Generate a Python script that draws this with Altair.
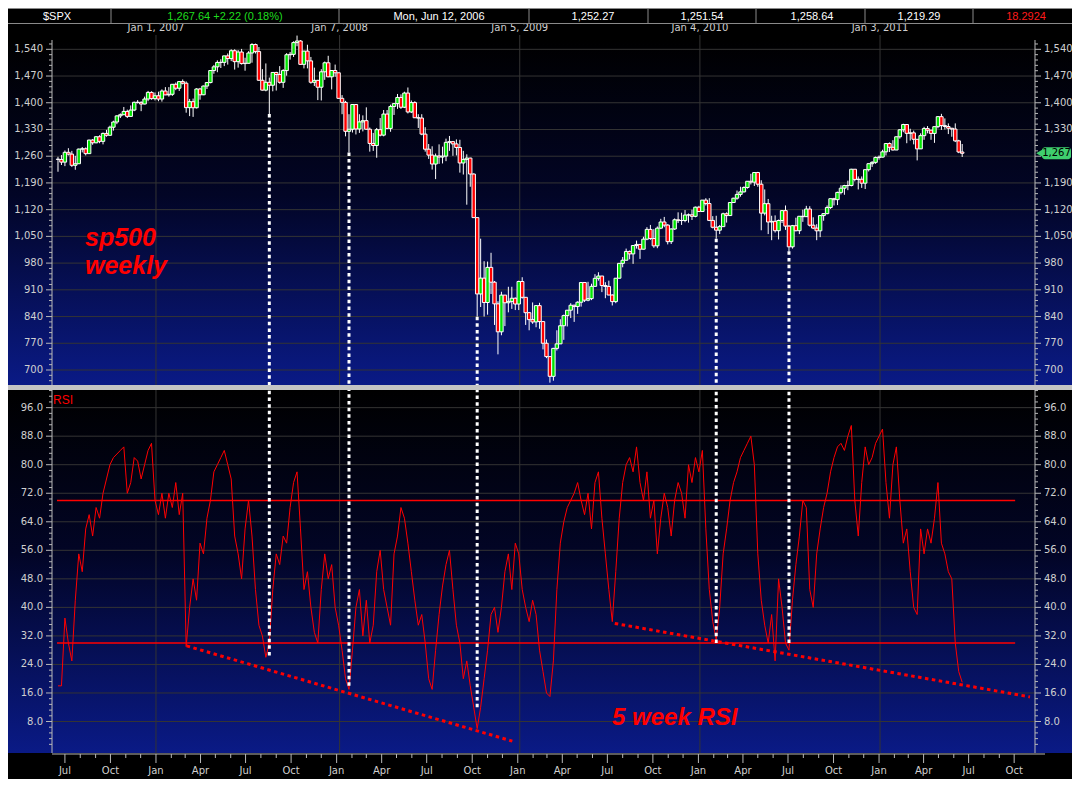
import altair as alt
import pandas as pd
import numpy as np

# ---------------- data (weekly S&P 500 candles) ----------------
opens = [
    1252.3, 1251.5, 1244.5, 1270.2, 1265.5, 1236.2, 1240.3, 1278.6, 1279.4, 1266.7, 1302.3, 1295.1, 1311.0, 1298.9, 1319.7,
    1314.8, 1335.9, 1349.6, 1365.6, 1368.6, 1377.3, 1364.3, 1380.9, 1401.2, 1400.9, 1396.7, 1409.8, 1427.1, 1410.8,
    1418.3, 1409.7, 1430.7, 1420.6, 1422.2, 1448.4, 1438.1, 1455.5, 1451.2, 1387.2, 1402.8, 1386.9, 1436.1, 1420.9, 1443.8,
    1452.9, 1484.4, 1494.1, 1505.6, 1505.9, 1522.8, 1515.7, 1536.3, 1507.7, 1532.9, 1502.6, 1503.4, 1530.4, 1552.5, 1534.1,
    1458.9, 1433.1, 1453.6, 1445.9, 1479.4, 1473.9, 1453.6, 1484.3, 1525.8, 1526.8, 1557.6, 1561.8, 1500.6, 1535.3, 1509.7,
    1453.7, 1458.7, 1440.7, 1481.1, 1504.7, 1467.9, 1484.5, 1478.5,
    1411.6, 1401.0, 1325.2, 1330.6, 1395.4, 1331.3, 1349.9, 1353.1, 1330.6, 1293.4, 1288.1, 1329.5, 1315.2, 1370.4, 1332.8,
    1390.3, 1397.8, 1413.9, 1388.3, 1425.4, 1375.9, 1400.4, 1360.7, 1360.0, 1317.9, 1278.4, 1262.9, 1239.5, 1260.7, 1257.8,
    1260.3, 1296.3, 1298.2, 1292.2, 1282.8, 1242.3, 1251.7, 1255.1, 1213.3, 1099.2, 899.2, 940.6, 876.8, 968.8, 930.0,
    873.3, 800.0, 896.2, 876.1, 879.7, 887.9, 872.8,
    931.8, 890.4, 850.1, 831.9, 825.9, 868.6, 826.8, 770.1, 735.1, 683.4, 756.6, 768.5, 815.9, 842.5, 856.6,
    869.6, 866.2, 877.5, 929.2, 882.9, 887.0, 919.1, 940.1, 946.2, 921.2, 918.9, 896.4, 879.1, 940.4, 979.3,
    987.5, 1010.5, 1004.1, 1026.1, 1028.9, 1016.4, 1042.7, 1068.3, 1044.4, 1025.2, 1071.5, 1087.7, 1079.6, 1036.2, 1069.3,
    1093.5, 1091.4, 1091.6, 1106.0, 1106.4, 1102.5, 1126.5,
    1115.1, 1145.0, 1136.0, 1091.8, 1073.9, 1066.2, 1075.5, 1109.2, 1104.5, 1138.7, 1150.0, 1159.9, 1166.6, 1178.1, 1194.4,
    1192.1, 1217.3, 1186.7, 1110.9, 1135.7, 1087.7, 1089.4, 1064.9, 1091.6, 1117.5, 1076.8, 1022.6, 1078.0, 1064.9, 1102.7,
    1101.6, 1121.6, 1079.3, 1071.7, 1064.6, 1104.5, 1109.6, 1125.6, 1148.7, 1146.2, 1165.2, 1176.2, 1183.1, 1183.3, 1225.9,
    1199.2, 1199.7, 1189.4, 1224.7, 1240.4, 1243.9, 1256.8,
    1257.6, 1271.5, 1293.2, 1283.4, 1276.3, 1310.9, 1329.2, 1343.0, 1319.9, 1321.2, 1304.3, 1279.2, 1313.8, 1332.4, 1328.2,
    1319.7, 1337.4, 1363.6, 1340.2, 1337.8, 1333.3, 1331.1, 1300.2, 1271.0,
]
highs = [
    1258.6, 1263, 1275, 1281, 1274, 1261, 1280, 1284, 1283, 1303, 1305, 1312, 1315, 1322, 1329,
    1340, 1353, 1367, 1372, 1389, 1382, 1393, 1403, 1407, 1404, 1416, 1431, 1430, 1427,
    1429, 1435, 1441, 1441, 1449, 1453, 1457, 1461, 1456, 1410, 1411, 1438, 1439, 1445, 1453,
    1484.5, 1499, 1511, 1514, 1522.8, 1529, 1540, 1540, 1538, 1541, 1518, 1535, 1556, 1555, 1546,
    1488, 1503, 1466, 1480, 1481, 1496, 1488, 1530, 1533, 1561, 1576, 1564, 1536, 1552, 1520,
    1492, 1460, 1488, 1508, 1523, 1485, 1500, 1478.5,
    1420, 1405, 1370, 1396, 1396, 1370, 1367, 1388, 1335, 1321, 1334, 1360, 1381, 1381, 1395,
    1399, 1423, 1422, 1429, 1440, 1406, 1404, 1370, 1370, 1336, 1292, 1286, 1267, 1291, 1285,
    1306, 1313, 1300, 1304, 1303, 1274, 1265, 1256, 1215, 1099.2, 1044, 985, 984, 1007, 933,
    880, 905, 896.2, 918, 918, 890, 934,
    943, 891, 852, 877, 870, 876, 827, 780, 735.1, 758, 804, 833, 845, 857, 875,
    871, 880, 930, 930, 931, 926, 951, 956, 946.2, 930, 934, 898, 941, 980, 996,
    1018, 1013, 1027, 1039, 1029, 1049, 1074, 1080, 1069, 1076, 1096, 1101, 1082, 1071, 1097,
    1113, 1112, 1119, 1110, 1120, 1128, 1130,
    1145, 1150, 1150, 1103, 1104, 1080, 1112, 1113, 1139, 1151, 1170, 1180, 1181, 1195, 1214,
    1217.3, 1219, 1197, 1173, 1148, 1104, 1105, 1094, 1119, 1131, 1080, 1080, 1099, 1103, 1120,
    1130, 1129, 1100, 1082, 1105, 1111, 1131, 1149, 1151, 1167, 1184, 1185, 1196, 1227, 1226,
    1207, 1207, 1225, 1241, 1247, 1259, 1262,
    1277, 1293.2, 1296, 1302, 1311, 1331, 1345, 1343, 1332, 1327, 1304.3, 1320, 1337, 1339, 1329,
    1337.4, 1364, 1371, 1359, 1346, 1334, 1346, 1303, 1292,
]
lows = [
    1219.3, 1237, 1234, 1262, 1232, 1224.5, 1240, 1270, 1262, 1266, 1290, 1294, 1294, 1291, 1311,
    1314, 1327, 1344, 1360, 1368, 1360, 1364, 1378, 1398, 1378, 1396, 1404, 1408, 1406,
    1404, 1403, 1420, 1416, 1418, 1433, 1431, 1448, 1374, 1365, 1363, 1385, 1408, 1420, 1436,
    1451, 1476, 1480, 1491, 1496, 1500, 1509, 1487, 1492, 1500, 1484, 1503, 1505, 1529, 1458,
    1432, 1430, 1370.6, 1430, 1432, 1450, 1439, 1471, 1513, 1520, 1548, 1500, 1490, 1490, 1450,
    1444, 1407, 1406, 1460, 1467, 1435, 1468, 1411,
    1370, 1312, 1270, 1322, 1317, 1321, 1325, 1330, 1272, 1274, 1256, 1312, 1312, 1331, 1324,
    1368, 1384, 1384, 1386, 1372, 1373, 1360, 1334, 1315, 1272, 1253, 1225, 1200, 1240, 1241,
    1247, 1274, 1261, 1262, 1217, 1212, 1133, 1180, 1099, 839.8, 865, 840, 845, 899, 818,
    741, 791, 815, 851, 860, 857, 857,
    887, 818, 804, 821, 812, 808, 754, 731, 666.8, 672, 751, 768, 779, 814, 836,
    826, 847, 866, 878, 880, 883, 919, 934, 904, 888, 896, 869, 875, 940, 969,
    987, 990, 978, 1018, 991, 1016, 1040, 1041, 1020, 1019, 1069, 1074, 1029, 1030, 1067,
    1085, 1080, 1087, 1086, 1093, 1100, 1114,
    1115, 1131, 1090, 1071, 1044, 1056, 1075, 1086, 1104, 1138, 1146, 1154, 1165, 1175, 1186,
    1182, 1180, 1066, 1105, 1056, 1040, 1060, 1042, 1085, 1067, 1011, 1018, 1063, 1056, 1088,
    1101, 1076, 1069, 1040, 1048, 1091, 1108, 1122, 1131, 1132, 1160, 1159, 1171, 1181, 1194,
    1173, 1177, 1174, 1220, 1232, 1240, 1251,
    1257, 1262, 1271, 1275, 1276, 1306, 1323, 1294, 1301, 1291, 1249, 1279, 1303, 1320, 1303,
    1295, 1333, 1329, 1330, 1318, 1311, 1297, 1268, 1258,
]
closes = [
    1251.5, 1244.5, 1270.2, 1265.5, 1236.2, 1240.3, 1278.6, 1279.4, 1266.7, 1302.3, 1295.1, 1311.0, 1298.9, 1319.7, 1314.8,
    1335.9, 1349.6, 1365.6, 1368.6, 1377.3, 1364.3, 1380.9, 1401.2, 1400.9, 1396.7, 1409.8, 1427.1, 1410.8, 1418.3,
    1409.7, 1430.7, 1420.6, 1422.2, 1448.4, 1438.1, 1455.5, 1451.2, 1387.2, 1402.8, 1386.9, 1436.1, 1420.9, 1443.8, 1452.9,
    1484.4, 1494.1, 1505.6, 1505.9, 1522.8, 1515.7, 1536.3, 1507.7, 1532.9, 1502.6, 1503.4, 1530.4, 1552.5, 1534.1, 1458.9,
    1433.1, 1453.6, 1445.9, 1479.4, 1473.9, 1453.6, 1484.3, 1525.8, 1526.8, 1557.6, 1561.8, 1500.6, 1535.3, 1509.7, 1453.7,
    1458.7, 1440.7, 1481.1, 1504.7, 1467.9, 1484.5, 1478.5, 1411.6,
    1401.0, 1325.2, 1330.6, 1395.4, 1331.3, 1349.9, 1353.1, 1330.6, 1293.4, 1288.1, 1329.5, 1315.2, 1370.4, 1332.8, 1390.3,
    1397.8, 1413.9, 1388.3, 1425.4, 1375.9, 1400.4, 1360.7, 1360.0, 1317.9, 1278.4, 1262.9, 1239.5, 1260.7, 1257.8, 1260.3,
    1296.3, 1298.2, 1292.2, 1282.8, 1242.3, 1251.7, 1255.1, 1213.3, 1099.2, 899.2, 940.6, 876.8, 968.8, 930.0, 873.3,
    800.0, 896.2, 876.1, 879.7, 887.9, 872.8, 931.8,
    890.4, 850.1, 831.9, 825.9, 868.6, 826.8, 770.1, 735.1, 683.4, 756.6, 768.5, 815.9, 842.5, 856.6, 869.6,
    866.2, 877.5, 929.2, 882.9, 887.0, 919.1, 940.1, 946.2, 921.2, 918.9, 896.4, 879.1, 940.4, 979.3, 987.5,
    1010.5, 1004.1, 1026.1, 1028.9, 1016.4, 1042.7, 1068.3, 1044.4, 1025.2, 1071.5, 1087.7, 1079.6, 1036.2, 1069.3, 1093.5,
    1091.4, 1091.6, 1106.0, 1106.4, 1102.5, 1126.5, 1115.1,
    1145.0, 1136.0, 1091.8, 1073.9, 1066.2, 1075.5, 1109.2, 1104.5, 1138.7, 1150.0, 1159.9, 1166.6, 1178.1, 1194.4, 1192.1,
    1217.3, 1186.7, 1110.9, 1135.7, 1087.7, 1089.4, 1064.9, 1091.6, 1117.5, 1076.8, 1022.6, 1078.0, 1064.9, 1102.7, 1101.6,
    1121.6, 1079.3, 1071.7, 1064.6, 1104.5, 1109.6, 1125.6, 1148.7, 1146.2, 1165.2, 1176.2, 1183.1, 1183.3, 1225.9, 1199.2,
    1199.7, 1189.4, 1224.7, 1240.4, 1243.9, 1256.8, 1257.6,
    1271.5, 1293.2, 1283.4, 1276.3, 1310.9, 1329.2, 1343.0, 1319.9, 1321.2, 1304.3, 1279.2, 1313.8, 1332.4, 1328.2, 1319.7,
    1337.4, 1363.6, 1340.2, 1337.8, 1333.3, 1331.1, 1300.2, 1271.0, 1267.6,
]
# 5 week RSI, one reading per weekly bar
rsi_values = [
    18, 18, 37, 30, 25, 42, 55, 50, 62, 66,
    60, 68, 65, 72, 76, 80, 82, 83, 84, 85,
    72, 75, 82, 81, 76, 80, 84, 86, 70, 66,
    72, 65, 72, 68, 75, 66, 72, 29, 40, 48,
    42, 58, 55, 65, 70, 78, 80, 82, 84, 80,
    76, 60, 55, 48, 62, 70, 60, 45, 35, 32,
    26, 30, 45, 55, 52, 60, 58, 68, 75, 78,
    62, 45, 50, 40, 33, 30, 45, 55, 48, 52,
    40, 35, 28, 20, 17, 28, 40, 45, 32, 42,
    30, 35, 50, 56, 45, 40, 35, 55, 60, 68,
    65, 58, 50, 42, 35, 38, 30, 20, 17, 28,
    38, 46, 52, 56, 45, 35, 30, 20, 25, 18,
    12, 6, 12, 20, 28, 38, 40, 33, 40, 50,
    55, 45, 58, 55, 45, 40, 36, 42, 38, 28,
    22, 16, 15, 25, 45, 58, 64, 68, 70, 72,
    75, 70, 66, 72, 62, 75, 78, 65, 55, 45,
    36, 50, 65, 75, 80, 82, 78, 85, 75, 70,
    78, 65, 70, 55, 65, 72, 68, 60, 70, 75,
    72, 65, 80, 75, 82, 78, 84, 62, 45, 36,
    31, 40, 55, 62, 70, 75, 78, 82, 84, 86,
    88, 80, 55, 42, 35, 30, 38, 25, 48, 40,
    30, 28, 42, 52, 60, 70, 68, 45, 40, 55,
    62, 68, 72, 78, 82, 85, 86, 84, 88, 91,
    70, 60, 75, 85, 80, 82, 86, 88, 90, 75,
    65, 80, 85, 70, 58, 62, 50, 40, 38, 62,
    55, 62, 58, 65, 75, 58, 55, 50, 48, 30,
    22, 19,
]

price_ticks = [700, 770, 840, 910, 980, 1050, 1120, 1190, 1260, 1330, 1400, 1470, 1540]
price_tick_labels = ["700", "770", "840", "910", "980", "1,050", "1,120", "1,190", "1,260",
                     "1,330", "1,400", "1,470", "1,540"]
rsi_ticks = [8, 16, 24, 32, 40, 48, 56, 64, 72, 80, 88, 96]
rsi_tick_labels = ["8.0", "16.0", "24.0", "32.0", "40.0", "48.0", "56.0", "64.0", "72.0",
                   "80.0", "88.0", "96.0"]
year_dates = ["2007-01-01", "2008-01-07", "2009-01-05", "2010-01-04", "2011-01-03"]
year_labels = ["Jan 1, 2007", "Jan 7, 2008", "Jan 5, 2009", "Jan 4, 2010", "Jan 3, 2011"]
rsi_levels = [70, 30]
header_texts = ["$SPX", "1,267.64  +2.22 (0.18%)", "Mon, Jun 12, 2006", "1,252.27",
                "1,251.54", "1,258.64", "1,219.29", "18.2924"]
last_price = 1267.6
last_price_label = "1,267"
# lows linked by white dotted lines to RSI lows (week index of the low, RSI value reached)
link_weeks = [61, 84, 121, 190, 211]
link_rsi = [26.5, 18, 12, 30, 30]
# red dotted RSI trend lines
trend_start = ["2007-03-04", "2009-07-16"]
trend_end = ["2008-12-21", "2011-11-02"]
trend_v0 = [29.2, 35.5]
trend_v1 = [2.5, 14.9]

# ---------------- layout (pixels) ----------------
W, H = 1064, 771
PX0, PX1 = 44, 1027
P_TOP, P_BOT = 32, 377
R_TOP, R_BOT = 382, 745
P_DOM = [660.7, 1564.4]
R_DOM = [-0.83, 100.95]
GREEN, RED = "#00e400", "#ff0000"
GRID, AXIS_C, LABEL_C = "#343434", "#b8b8b8", "#cfcfcf"
FONT = "DejaVu Sans"

X_SCALE = alt.Scale(domain=[alt.DateTime(year=2006, month=6, date=15),
                            alt.DateTime(year=2011, month=11, date=2)],
                    range=[PX0, PX1])
PY_SCALE = alt.Scale(domain=P_DOM, range=[P_BOT, P_TOP], zero=False, nice=False)
RY_SCALE = alt.Scale(domain=R_DOM, range=[R_BOT, R_TOP], zero=False, nice=False)


def X(f):
    return alt.X(f"{f}:T", scale=X_SCALE, axis=None)


def YP(f):
    return alt.Y(f"{f}:Q", scale=PY_SCALE, axis=None)


def YR(f):
    return alt.Y(f"{f}:Q", scale=RY_SCALE, axis=None)


weeks = pd.date_range("2006-06-17", periods=len(closes), freq="7D")
candles = pd.DataFrame({"date": weeks, "open": opens, "high": highs, "low": lows, "close": closes})
candles["dir"] = np.where(candles["close"] >= candles["open"], "up", "down")
rsi_df = pd.DataFrame({"date": weeks, "rsi": rsi_values})
one = pd.DataFrame({"a": [0]})

grad = alt.LinearGradient(
    gradient="linear",
    stops=[alt.GradientStop(color="#000000", offset=0),
           alt.GradientStop(color="#020526", offset=0.45),
           alt.GradientStop(color="#0a1a86", offset=1)],
    x1=0, x2=0, y1=0, y2=1)

layers = []
# backgrounds
for top, bot in [(P_TOP, P_BOT), (R_TOP, R_BOT)]:
    layers.append(alt.Chart(one).mark_rect(color=grad).encode(
        x=alt.value(0), x2=alt.value(W), y=alt.value(top), y2=alt.value(bot)))

# horizontal gridlines
pt = pd.DataFrame({"v": price_ticks, "lab": price_tick_labels})
rt = pd.DataFrame({"v": rsi_ticks, "lab": rsi_tick_labels})
layers.append(alt.Chart(pt).mark_rule(color=GRID, strokeWidth=1).encode(
    x=alt.value(PX0), x2=alt.value(PX1), y=YP("v")))
layers.append(alt.Chart(rt).mark_rule(color=GRID, strokeWidth=1).encode(
    x=alt.value(PX0), x2=alt.value(PX1), y=YR("v")))
# vertical year gridlines + top labels
yd = pd.DataFrame({"d": pd.to_datetime(year_dates), "lab": year_labels})
layers.append(alt.Chart(yd).mark_rule(color=GRID, strokeWidth=1).encode(
    x=X("d"), y=alt.value(P_TOP - 5), y2=alt.value(R_BOT)))
layers.append(alt.Chart(yd).mark_text(color=LABEL_C, font=FONT, fontSize=10, baseline="middle").encode(
    x=X("d"), y=alt.value(20), text="lab:N"))

# RSI reference levels
lv = pd.DataFrame({"v": rsi_levels, "x0": [pd.Timestamp("2006-06-15")] * 2,
                   "x1": [pd.Timestamp("2011-10-03")] * 2})
layers.append(alt.Chart(lv).mark_rule(color=RED, strokeWidth=1.5).encode(
    x=X("x0"), x2="x1:T", y=YR("v")))

# candles
layers.append(alt.Chart(candles).mark_rule(color="white", strokeWidth=1).encode(
    x=X("date"), y=YP("low"), y2="high:Q"))
layers.append(alt.Chart(candles).mark_bar(size=3.4, stroke="white", strokeWidth=1).encode(
    x=X("date"), y=YP("open"), y2="close:Q",
    color=alt.Color("dir:N", scale=alt.Scale(domain=["up", "down"], range=[GREEN, RED]), legend=None)))

# RSI line
layers.append(alt.Chart(rsi_df).mark_line(color=RED, strokeWidth=1).encode(x=X("date"), y=YR("rsi")))

# dotted links between price lows and RSI lows
links = pd.DataFrame({"date": weeks[link_weeks], "low": [lows[i] for i in link_weeks], "rv": link_rsi})
dot = dict(color="white", strokeWidth=3, strokeDash=[3.5, 3.2])
layers.append(alt.Chart(links).mark_rule(**dot).encode(x=X("date"), y=YP("low"), y2=alt.value(P_BOT)))
layers.append(alt.Chart(links).mark_rule(**dot).encode(x=X("date"), y=YR("rv"), y2=alt.value(R_TOP)))

# red dotted trend lines on RSI
tr = pd.DataFrame({"x0": pd.to_datetime(trend_start), "x1": pd.to_datetime(trend_end),
                   "v0": trend_v0, "v1": trend_v1})
layers.append(alt.Chart(tr).mark_rule(color=RED, strokeWidth=3, strokeDash=[3.5, 3.5]).encode(
    x=X("x0"), x2="x1:T", y=YR("v0"), y2="v1:Q"))

# separator bar between panels
layers.append(alt.Chart(one).mark_rect(color="#c4c4c4").encode(
    x=alt.value(0), x2=alt.value(W), y=alt.value(P_BOT), y2=alt.value(R_TOP)))

# y axes (left and right) for both panels
pt_right = pt[pt.v != 1260]   # hidden behind the last-price marker
for yfun, lo, hi, tick_df, lab_r, minor in [
        (YP, P_TOP, P_BOT, pt, pt_right, [v for v in range(672, 1565, 14) if (v - 700) % 70 != 0]),
        (YR, R_TOP, R_BOT, rt, rt, [round(k * 1.6, 1) for k in range(0, 64) if k % 5 != 0])]:
    mdf = pd.DataFrame({"v": minor})
    for xa, sgn in [(PX0, -1), (PX1, 1)]:
        layers.append(alt.Chart(one).mark_rule(color=AXIS_C, strokeWidth=1).encode(
            x=alt.value(xa), y=alt.value(lo), y2=alt.value(hi)))
        layers.append(alt.Chart(tick_df).mark_rule(color=AXIS_C, strokeWidth=1).encode(
            x=alt.value(xa), x2=alt.value(xa + sgn * 6), y=yfun("v")))
        layers.append(alt.Chart(mdf).mark_rule(color=AXIS_C, strokeWidth=1).encode(
            x=alt.value(xa), x2=alt.value(xa + sgn * 3), y=yfun("v")))
        layers.append(alt.Chart(tick_df if sgn < 0 else lab_r).mark_text(
            color=LABEL_C, font=FONT, fontSize=10, baseline="middle",
            align="right" if sgn < 0 else "left").encode(
            x=alt.value(xa + sgn * 9), y=yfun("v"), text="lab:N"))

# last price marker on the right axis
lp = pd.DataFrame({"v": [last_price], "lab": [last_price_label]})
layers.append(alt.Chart(lp).mark_rect(color="#3fcf6e", cornerRadius=3, yOffset=-6, y2Offset=6).encode(
    x=alt.value(PX1 + 7), x2=alt.value(W - 1), y=YP("v"), y2="v:Q"))
layers.append(alt.Chart(lp).mark_point(shape="triangle-left", filled=True, color="#3fcf6e", size=80, opacity=1).encode(
    x=alt.value(PX1 + 5), y=YP("v")))
layers.append(alt.Chart(lp).mark_text(color="#000000", font=FONT, fontSize=10, baseline="middle", align="center").encode(
    x=alt.value((PX1 + 7 + W - 1) / 2), y=YP("v"), text="lab:N"))

# bottom time axis
months = pd.date_range("2006-07-01", "2011-10-01", freq="MS")
mt = pd.DataFrame({"d": months, "q": months.month.isin([1, 4, 7, 10]),
                   "lab": months.strftime("%b")})
layers.append(alt.Chart(one).mark_rule(color=AXIS_C, strokeWidth=1).encode(
    x=alt.value(PX0), x2=alt.value(PX1 + 10), y=alt.value(R_BOT + 1)))
layers.append(alt.Chart(mt[mt.q]).mark_rule(color=AXIS_C, strokeWidth=1).encode(
    x=X("d"), y=alt.value(R_BOT + 1), y2=alt.value(R_BOT + 10)))
layers.append(alt.Chart(mt[~mt.q]).mark_rule(color=AXIS_C, strokeWidth=1).encode(
    x=X("d"), y=alt.value(R_BOT + 1), y2=alt.value(R_BOT + 5)))
layers.append(alt.Chart(mt[mt.q]).mark_text(color=LABEL_C, font=FONT, fontSize=10, baseline="middle").encode(
    x=X("d"), y=alt.value(R_BOT + 18), text="lab:N"))

# header bar
hx = [49, 217, 431, 585, 694, 804, 911, 1018]
hdiv = [103, 331, 521, 640, 748, 857, 965]
hcol = ["#ffffff", "#1fdc1f", "#ffffff", "#ffffff", "#ffffff", "#ffffff", "#ffffff", "#ff1a1a"]
hd = pd.DataFrame({"x": hdiv})
for yy in [0.5, 15.5]:
    layers.append(alt.Chart(one).mark_rule(color="#8a8a8a", strokeWidth=1).encode(
        x=alt.value(0), x2=alt.value(W), y=alt.value(yy)))
layers.append(alt.Chart(hd).mark_rule(color="#8a8a8a", strokeWidth=1).encode(
    x=alt.X("x:Q", scale=None, axis=None), y=alt.value(0), y2=alt.value(15)))
for t, xx, c in zip(header_texts, hx, hcol):
    layers.append(alt.Chart(one).mark_text(text=t, color=c, font="Liberation Sans", fontSize=11,
                                           baseline="middle").encode(x=alt.value(xx), y=alt.value(8.5)))

# annotations
ann = dict(color=RED, font="Liberation Sans", fontWeight="bold", fontStyle="italic", align="left",
           baseline="middle")
layers.append(alt.Chart(one).mark_text(text="sp500", fontSize=25, **ann).encode(
    x=alt.value(77), y=alt.value(230)))
layers.append(alt.Chart(one).mark_text(text="weekly", fontSize=25, **ann).encode(
    x=alt.value(77), y=alt.value(258)))
layers.append(alt.Chart(one).mark_text(text="5 week RSI", fontSize=24, **ann).encode(
    x=alt.value(604), y=alt.value(710)))
layers.append(alt.Chart(one).mark_text(text="RSI", color=RED, font="Liberation Sans", fontSize=12,
                                       align="left", baseline="middle").encode(
    x=alt.value(PX0 + 1), y=alt.value(R_TOP + 10)))

chart = alt.layer(*layers).resolve_scale(y="independent").properties(
    width=W, height=H, autosize=alt.AutoSizeParams(type="none"), padding=0, background="#000000"
).configure_view(stroke=None)

chart.save("out.html", embed_options={"renderer": "svg", "actions": False})
